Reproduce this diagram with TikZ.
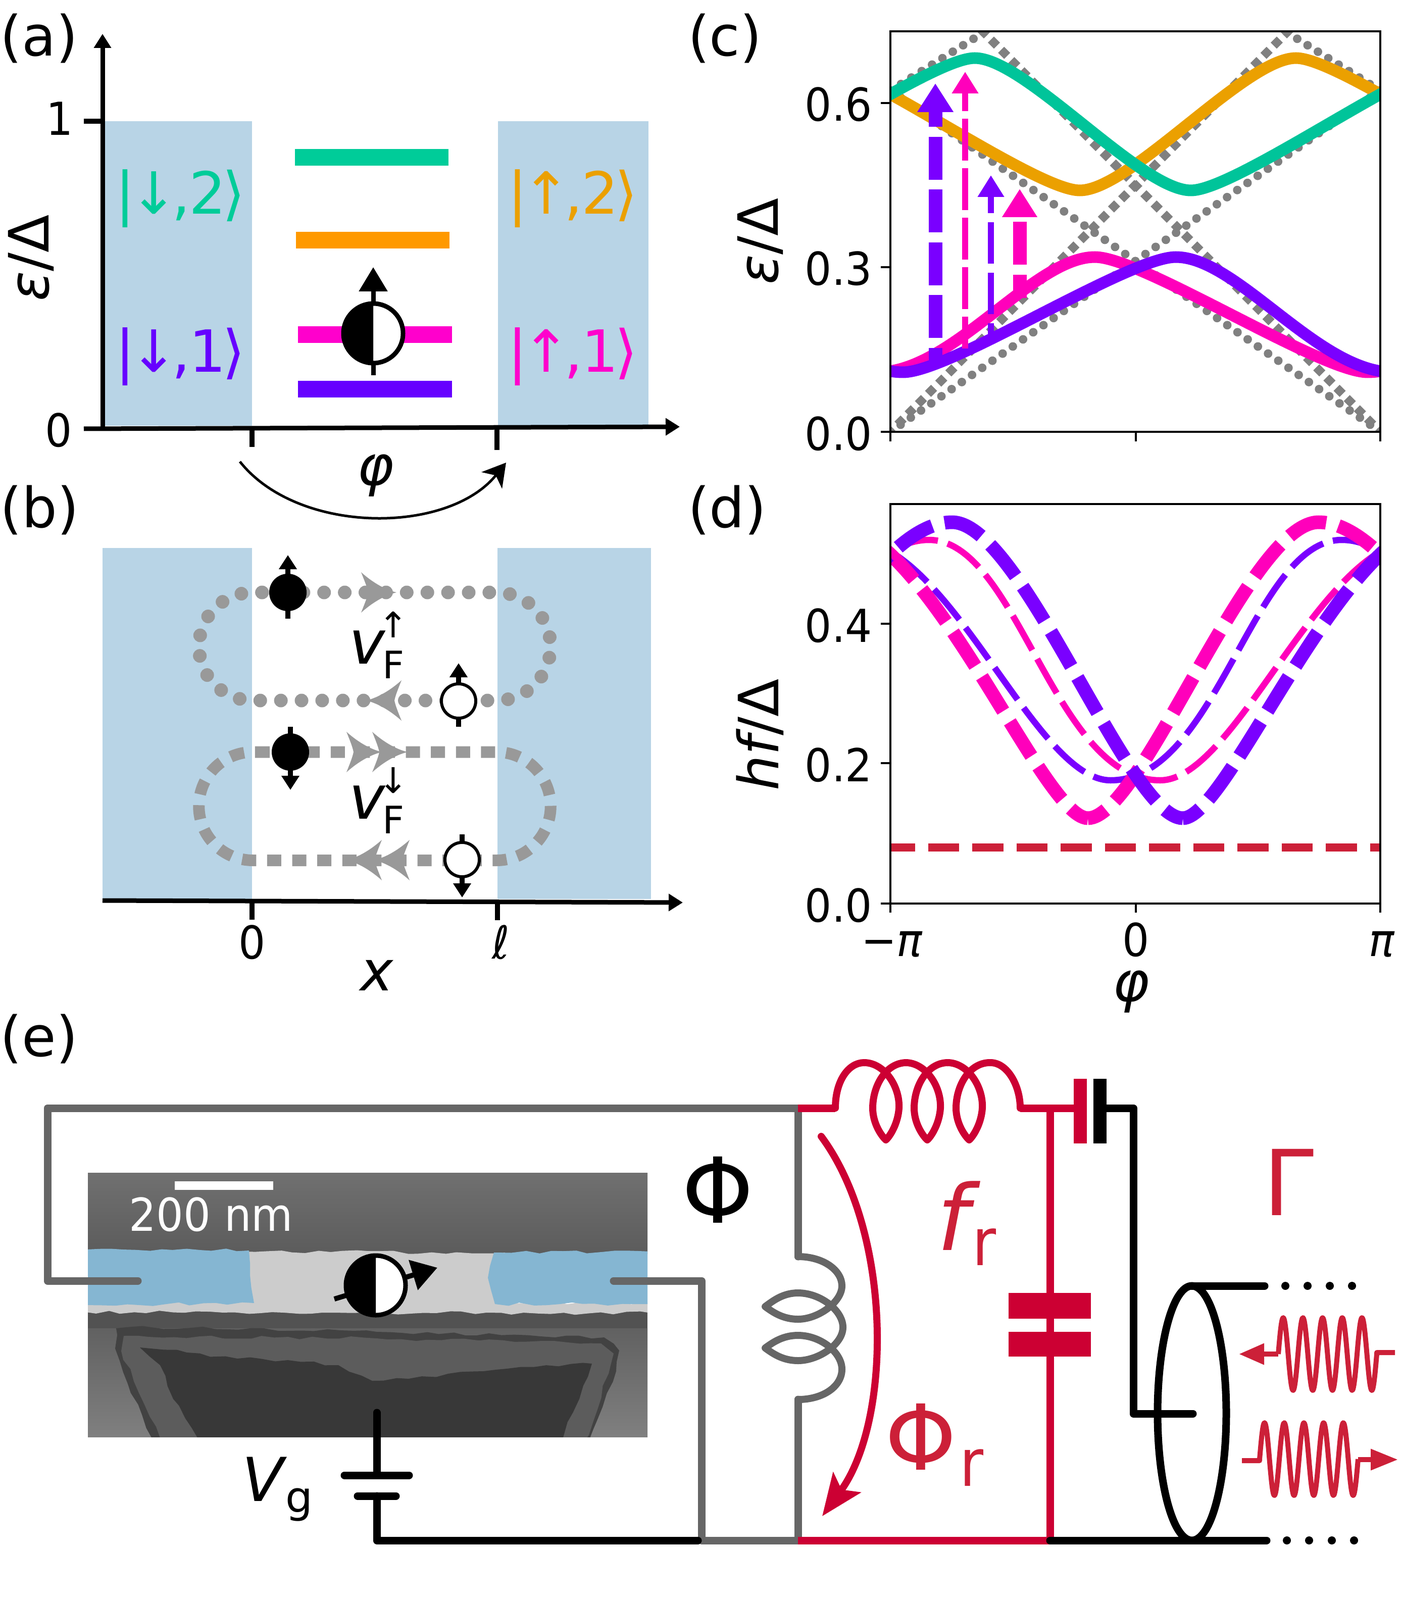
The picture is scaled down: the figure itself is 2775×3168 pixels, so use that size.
\documentclass[tikz,border=0pt]{standalone}
\usepackage{fontspec}
\setmainfont{DejaVu Sans}
\usetikzlibrary{arrows.meta,decorations.pathmorphing}
\definecolor{leadblue}{HTML}{B8D4E6}
\definecolor{lvgreen}{HTML}{00CC99}
\definecolor{lvorange}{HTML}{FF9900}
\definecolor{lvmagenta}{HTML}{FF00CC}
\definecolor{lvviolet}{HTML}{6600FF}
\definecolor{cvgreen}{HTML}{00C49A}
\definecolor{cvorange}{HTML}{EBA000}
\definecolor{cvmagenta}{HTML}{FF00BB}
\definecolor{cvviolet}{HTML}{7A00FF}
\definecolor{loopgray}{HTML}{999999}
\definecolor{markgray}{HTML}{808080}
\definecolor{wiregray}{HTML}{666666}
\definecolor{wirered}{HTML}{CC0033}
\definecolor{textred}{HTML}{CC2038}
\definecolor{semblue}{HTML}{85B6D2}
\tikzset{
  lab/.style={inner sep=0pt,anchor=base},
  panellab/.style={lab,anchor=base west,font=\fontsize{22}{24}\selectfont},
  ticklab/.style={lab,xscale=.93,font=\fontsize{18}{20}\selectfont},
  axislab/.style={inner sep=0pt,font=\fontsize{22}{24}\selectfont},
  ketlab/.style={lab,font=\fontsize{23}{25}\selectfont},
  bigred/.style={lab,text=textred,font=\fontsize{36}{38}\selectfont},
  subred/.style={lab,xscale=.88,text=textred,font=\fontsize{26}{28}\selectfont},
  vflab/.style={lab,anchor=base west,font=\fontsize{24}{26}\selectfont},
  axisline/.style={line width=1.8pt},
  frameline/.style={line width=.8pt},
  wire/.style={line width=3pt,line cap=round,line join=round},
  coil/.style={line width=2.8pt,line cap=round,line join=round},
  wave/.style={line width=2pt,textred,line join=round},
  rough/.style={decorate,decoration={random steps,segment length=5pt,amplitude=.7pt}},
  mirrored/.style={shift={(4496,0)},xscale=-1},
  thickdash/.style={line width=5.4pt,dash pattern=on 16pt off 5pt,dash phase=8pt},
  thindashr/.style={line width=2.5pt,dash pattern=on 15.6pt off 4pt,dash phase=8.6pt},
  thindashl/.style={line width=2.5pt,dash pattern=on 15.6pt off 4pt,dash phase=2.8pt},
  halfspin/.pic={
    \fill[white] (0,0) circle (11.8pt);
    \fill[black] (0,-59) arc (90:270:11.8pt) -- cycle;
    \draw[line width=1.8pt] (0,0) circle (11.8pt);
  },
  swoop/.pic={
    \fill (0,0) .. controls (-25,-6) and (-50,-22) .. (-70,-40)
      .. controls (-62,-20) and (-58,-10) .. (-56,0)
      .. controls (-58,10) and (-62,20) .. (-70,40)
      .. controls (-50,22) and (-25,6) .. (0,0) -- cycle;
  },
}
\newcommand{\ketmark}[2]{|\kern-.1em #1\kern-.1em,\kern-.03em #2\kern-.06em ⟩}
\newcommand{\vfermi}[2]{{\itshape v}\kern-1pt\makebox[0pt][l]{\makebox[8.6pt][c]{\raisebox{#2}{\fontsize{14}{14}\selectfont #1}}}\raisebox{-5.8pt}{\fontsize{15}{15}\selectfont F}}
\newcommand{\violetc}{(1358,509) .. controls (1480,509) and (1640,737) .. (1788,737) .. controls (1881,737) and (2235,509) .. (2328,509) .. controls (2450,509) and (2610,737) .. (2758,737)}
\newcommand{\greenc}{(1388,377) .. controls (1478,377) and (1840,115) .. (1930,115) .. controls (2030,115) and (2258,377) .. (2358,377) .. controls (2448,377) and (2810,115) .. (2900,115)}
\newcommand{\thickdl}{(2342,1620) .. controls (2235,1620) and (2023,1034) .. (1885,1034) .. controls (1691,1034) and (1463,1620) .. (1372,1620)}
\newcommand{\thickdr}{(2342,1620) .. controls (2433,1620) and (2661,1034) .. (2855,1034)}
\newcommand{\thindl}{(2297,1545) .. controls (2086,1545) and (2015,1069) .. (1839,1069) .. controls (1646,1069) and (1478,1545) .. (1327,1545)}
\newcommand{\thindr}{(2297,1545) .. controls (2448,1545) and (2616,1069) .. (2809,1069)}
\begin{document}
\begin{tikzpicture}[x=.2pt,y=-.2pt]
\useasboundingbox (0,0) rectangle (2775,3168);
% (a)
\node[panellab] (laba) at (0,111) {(a)};
\fill[leadblue] (208,240) rectangle (499,843);
\fill[leadblue] (986,240) rectangle (1284,843);
\fill[lvgreen] (584,295) rectangle (888,328);
\fill[lvorange] (586,459) rectangle (890,492);
\fill[lvmagenta] (590,646) rectangle (895,679);
\fill[lvviolet] (590,754) rectangle (895,787);
\draw[axisline,-{Triangle[length=5.6pt,width=6.6pt]}] (203,849) -- (203,67);
\draw[axisline,-{Triangle[length=5.6pt,width=6.6pt]}] (166,849) -- (1346,845);
\draw[axisline,line width=2pt] (166,240) -- (203,240);
\draw[axisline,line width=2pt] (499,849) -- (499,885);
\draw[axisline,line width=2pt] (984,845) -- (984,891);
\node[ticklab,anchor=base east] (aone) at (146,268) {1};
\node[ticklab,anchor=base east] (azero) at (144,884) {0};
\node[axislab,rotate=90] (aeps) at (62,511) {{\itshape ε}/Δ};
\node[axislab] (aphi) at (744,942) {\itshape φ};
\draw[line width=1pt,-{Stealth[length=9pt,width=10.4pt,inset=2.5pt]}] (475,914) .. controls (590,1059) and (887,1059) .. (1002,916);
\node[ketlab,text=lvgreen] (ketdtwo) at (357,424) {\ketmark{↓}{2}};
\node[ketlab,text=cvorange] (ketutwo) at (1134,424) {\ketmark{↑}{2}};
\node[ketlab,text=lvviolet] (ketdone) at (357,737) {\ketmark{↓}{1}};
\node[ketlab,text=lvmagenta] (ketuone) at (1134,737) {\ketmark{↑}{1}};
\draw[line width=1.8pt,-{Triangle[length=9.6pt,width=11pt]}] (739,743) -- (739,529);
\pic at (739,660) {halfspin};
% (b)
\node[panellab] (labb) at (0,1044) {(b)};
\fill[leadblue] (203,1085) rectangle (499,1780);
\fill[leadblue] (985,1085) rectangle (1289,1780);
\draw[axisline,-{Triangle[length=5.6pt,width=6.6pt]}] (203,1783) -- (1352,1787);
\draw[line width=2pt] (499,1785) -- (499,1821);
\draw[line width=2pt] (985,1785) -- (985,1822);
\node[ticklab] (bzero) at (499,1898) {0};
\node[ticklab] (bell) at (992,1898) {\itshape ℓ};
\node[axislab,lab] (bx) at (746,1961) {\itshape x};
\draw[loopgray,line width=5.4pt,line cap=round,dash pattern=on 0pt off 8.18pt]
  (519,1173) -- (983,1173) arc (90:-90:21.4pt) -- (501,1387) arc (270:90:21.4pt) -- cycle;
\draw[loopgray,line width=4.6pt,dash pattern=on 5.6pt off 4.32pt]
  (506,1489) -- (983,1489) arc (90:-90:21.45pt) -- (501,1703.5) arc (270:90:21.45pt) -- cycle;
\pic[fill=loopgray] at (785,1173) {swoop};
\pic[fill=loopgray,rotate=180] at (725,1387) {swoop};
\pic[fill=loopgray] at (756,1489) {swoop};
\pic[fill=loopgray] at (807,1489) {swoop};
\pic[fill=loopgray,rotate=180] at (686,1703) {swoop};
\pic[fill=loopgray,rotate=180] at (741,1703) {swoop};
\foreach \sx/\sy/\sfill/\sa/\sb in {570/1173/black/1225/1099,908/1388/white/1439/1313,575/1489/black/1439/1564,915/1702/white/1652/1777}{
  \draw[line width=2pt,-{Triangle[length=5.6pt,width=6.8pt]}] (\sx,\sa) -- (\sx,\sb);
  \draw[fill=\sfill,line width=1.2pt] (\sx,\sy) circle (6.8pt);
}
\node[vflab] (vup) at (690,1314) {\vfermi{↑}{10.4pt}};
\node[vflab] (vdn) at (690,1621) {\vfermi{↓}{10.2pt}};
% (c)
\node[panellab] (labc) at (1361,111) {(c)};
\begin{scope}
  \clip (1763,62) rectangle (2733,855);
  \foreach \sgn in {-1,1}{
    \foreach \k in {0,...,48}
      \fill[markgray] ({2248+\sgn*(485-20.2*\k)},{855-14.08*\k}) circle (1.7pt);
    \foreach \k in {0,...,9}
      \fill[markgray] ({2248+\sgn*(-300-20.5*\k)},{64+12.8*\k}) circle (1.7pt);
    \foreach \k in {0,...,39}
      \fill[markgray] ({2248+\sgn*(485-20.13*\k)},{855-20.28*\k}) +(-2.4pt,0) -- +(0,2.4pt) -- +(2.4pt,0) -- +(0,-2.4pt) -- cycle;
  }
  \draw[cvorange,line width=4.6pt,mirrored] \greenc;
  \draw[cvgreen,line width=4.6pt] \greenc;
  \draw[cvmagenta,line width=4.6pt,mirrored] \violetc;
  \draw[cvviolet,line width=4.6pt] \violetc;
\end{scope}
\draw[cvviolet,line width=5.4pt,dash pattern=on 17pt off 3.9pt,dash phase=10.6pt,-{Triangle[length=11.4pt,width=13.6pt]}] (1852,721) -- (1852,165);
\draw[cvmagenta,line width=2.3pt,dash pattern=on 16.6pt off 3pt,dash phase=4pt,-{Triangle[length=8.6pt,width=10pt]}] (1911,690) -- (1911,142);
\draw[cvviolet,line width=2.3pt,dash pattern=on 16.4pt off 3.6pt,dash phase=9.2pt,-{Triangle[length=8.6pt,width=10pt]}] (1962,676) -- (1962,347);
\draw[cvmagenta,line width=5.4pt,dash pattern=on 17pt off 3.9pt,dash phase=7.8pt,-{Triangle[length=11.2pt,width=13.2pt]}] (2019,590) -- (2019,374);
\draw[frameline] (1763,62) rectangle (2733,855);
\foreach \ty/\tl in {204/0.6,529/0.3,855/0.0}{
  \draw[frameline] (1744,\ty) -- (1763,\ty);
  \node[ticklab,anchor=base east] (c\ty) at (1728,\ty+36) {\tl};
}
\foreach \tx in {1763,2249,2733}
  \draw[frameline] (\tx,855) -- (\tx,874);
\node[axislab,rotate=90] (ceps) at (1505,478) {{\itshape ε}/Δ};
% (d)
\node[panellab] (labd) at (1361,1044) {(d)};
\begin{scope}
  \clip (1763,998) rectangle (2733,1789);
  \draw[cvmagenta,thindashr] \thindr;
  \draw[cvmagenta,thindashl] \thindl;
  \draw[cvviolet,thindashr,mirrored] \thindr;
  \draw[cvviolet,thindashl,mirrored] \thindl;
  \draw[cvmagenta,thickdash,mirrored] \thickdr;
  \draw[cvmagenta,thickdash,mirrored] \thickdl;
  \draw[cvviolet,thickdash] \thickdr;
  \draw[cvviolet,thickdash] \thickdl;
\end{scope}
\draw[textred,line width=3.1pt,dash pattern=on 12.3pt off 5.2pt,dash phase=2.6pt] (1763,1678) -- (2733,1678);
\draw[frameline] (1763,998) rectangle (2733,1789);
\foreach \ty/\tl in {1235/0.4,1511/0.2,1789/0.0}{
  \draw[frameline] (1744,\ty) -- (1763,\ty);
  \node[ticklab,anchor=base east] (d\ty) at (1728,\ty+36) {\tl};
}
\foreach \tx in {1763,2249,2733}
  \draw[frameline] (\tx,1789) -- (\tx,1807);
\node[ticklab] (dmpi) at (1766,1893) {−{\itshape π}};
\node[ticklab] (dzero) at (2249,1893) {0};
\node[ticklab] (dpi) at (2736,1893) {\itshape π};
\node[axislab] (dphi) at (2240,1964) {\itshape φ};
\node[axislab,rotate=90] (dhf) at (1505,1455) {{\itshape hf}/Δ};
% (e)
\node[panellab] (labe) at (0,2091) {(e)};
\begin{scope}
  \clip (174,2322) rectangle (1282,2845);
  \shade[top color=black!56,bottom color=black!64] (174,2322) rectangle (1282,2482);
  \fill[black!68] (174,2590) rectangle (1282,2632);
  \shade[top color=black!62,bottom color=black!50] (174,2630) rectangle (1282,2845);
  \fill[black!20,rough] (480,2478) -- (1000,2480) -- (1000,2578) -- (1290,2580) -- (1290,2600) -- (170,2598) -- (170,2580) -- (480,2578) -- cycle;
  \fill[semblue,rough] (170,2474) -- (493,2476) -- (503,2580) -- (170,2584) -- cycle;
  \fill[semblue,rough] (1290,2478) -- (978,2480) -- (966,2530) -- (980,2582) -- (1290,2582) -- cycle;
  \fill[black!74,rough] (230,2630) -- (300,2628) -- (746,2637) -- (1196,2648) -- (1226,2674) -- (1220,2715) -- (1167,2850) -- (302,2850) -- (253,2740) -- (228,2670) -- cycle;
  \fill[black!64,rough] (245,2645) -- (746,2650) -- (1190,2660) -- (1215,2680) -- (1205,2720) -- (1160,2850) -- (318,2850) -- (265,2735) -- (240,2675) -- cycle;
  \fill[black!78,rough] (277,2668) -- (370,2678) -- (470,2690) -- (570,2693) -- (670,2703) -- (737,2734) -- (957,2715) -- (1172,2700) -- (1114,2850) -- (393,2850) -- (343,2770) -- (317,2703) -- cycle;
\end{scope}
\fill[white] (346,2339) rectangle (541,2356);
\node[lab,xscale=.94,text=white,font=\fontsize{18}{20}\selectfont] (scalebar) at (418,2437) {200 nm};
\coordinate (topj) at (1580,2194);
\coordinate (botj) at (1580,3050);
\coordinate (capj) at (2079,2194);
\coordinate (gndj) at (2079,3050);
\draw[wire,wiregray] (273,2536) -- (94,2536) -- (94,2194) -- (topj) -- (1580,2488);
\draw[coil,wiregray] (1580,2488) .. controls (1630,2488) and (1667,2515) .. (1667,2546)
  .. controls (1667,2578) and (1620,2612) .. (1580,2612) .. controls (1550,2612) and (1530,2598) .. (1515,2587)
  .. controls (1530,2576) and (1550,2560) .. (1580,2560) .. controls (1625,2560) and (1669,2595) .. (1669,2628)
  .. controls (1669,2662) and (1620,2694) .. (1580,2694) .. controls (1550,2694) and (1530,2680) .. (1515,2669)
  .. controls (1530,2658) and (1550,2644) .. (1580,2644) .. controls (1625,2644) and (1667,2678) .. (1667,2711)
  .. controls (1667,2745) and (1630,2771) .. (1580,2771);
\draw[wire,wiregray] (1580,2771) -- (botj) -- (1389,3050) -- (1389,2536) -- (1215,2536);
\draw[line width=2pt,-{Triangle[length=10pt,width=12pt]}] (662,2572) -- (866,2510);
\pic at (744,2545) {halfspin};
\draw[wire] (746,2797) -- (746,2921);
\draw[wire] (682,2921) -- (810,2921);
\draw[wire] (708,2962) -- (784,2962);
\draw[wire] (746,2962) -- (746,3050) -- (1382,3050);
\node[lab,anchor=base west,font=\fontsize{24}{26}\selectfont] (vgate) at (478,2972) {\itshape V};
\node[lab,anchor=base west,font=\fontsize{17}{19}\selectfont] (vgsub) at (564,2994) {g};
\node[lab,font=\fontsize{36}{38}\selectfont] (phiext) at (1421,2421) {Φ};
% resonator
\draw[wirered,line width=3pt] (topj) -- (1654,2194);
\draw[coil,wirered] (1654,2194) .. controls (1654,2140) and (1680,2104) .. (1711,2104);
\foreach \lx in {1754,1836,1919}
  \draw[coil,wirered] ({\lx-43},2104) .. controls ({\lx-4},2104) and ({\lx+28},2150) .. ({\lx+26},2194)
    .. controls ({\lx+24},2225) and ({\lx+8},2250) .. (\lx,2257) .. controls ({\lx-8},2250) and ({\lx-26},2225) .. ({\lx-26},2194)
    .. controls ({\lx-26},2150) and (\lx,2104) .. ({\lx+41},2104);
\draw[coil,wirered] (1961,2104) .. controls (1995,2104) and (2020,2150) .. (2020,2194);
\draw[wirered,line width=3pt] (2020,2194) -- (2126,2194);
\fill[wirered] (2126,2136) rectangle (2152,2264);
\fill (2165,2136) rectangle (2191,2264);
\draw[wirered,line width=3pt] (capj) -- (gndj);
\fill[wirered] (1997,2560) rectangle (2160,2611);
\fill[wirered] (1997,2637) rectangle (2160,2686);
\draw[wirered,line width=3pt] (botj) -- (gndj);
\draw[wirered,line width=2.8pt,line cap=round,-{Stealth[length=16.5pt,width=13.4pt,inset=3.5pt]}] (1626,2250) .. controls (1767,2440) and (1767,2812) .. (1628,3002);
\node[bigred,anchor=base west] (fres) at (1854,2475) {\itshape f};
\node[subred,anchor=base west] (fsub) at (1925,2505) {r};
\node[bigred] (phires) at (1823,2910) {Φ};
\node[subred,anchor=base west] (phisub) at (1900,2942) {r};
\node[bigred] (gammalab) at (2552,2406) {Γ};
% line
\draw[wire] (2191,2194) -- (2244,2194) -- (2244,2799) -- (2362,2799);
\draw[wire] (gndj) -- (2508,3050);
\draw[wire] (2360,2546) -- (2504,2546);
\draw[line width=3pt] (2360,2798) ellipse (68 and 252);
\foreach \dx in {2545,2589,2633,2677}
  \fill (\dx,2546) circle (1.6pt);
\foreach \dx in {2548,2592,2637,2681}
  \fill (\dx,3050) circle (1.6pt);
\draw[wave,-{Triangle[length=10pt,width=8pt]}] (2531,2681) -- (2453,2681);
\draw[wave] plot[domain=2531:2726,samples=100,smooth] (\x,{2681-72*sin((\x-2531)/39*360)}) -- (2726,2678) -- (2762,2678);
\draw[wave] (2459,2892) -- (2494,2892) -- plot[domain=2494:2689,samples=100,smooth] (\x,{2889-72*sin((\x-2494)/39*360)});
\draw[wave,-{Triangle[length=10.8pt,width=8pt]}] (2689,2890) -- (2768,2890);
\end{tikzpicture}
\end{document}
